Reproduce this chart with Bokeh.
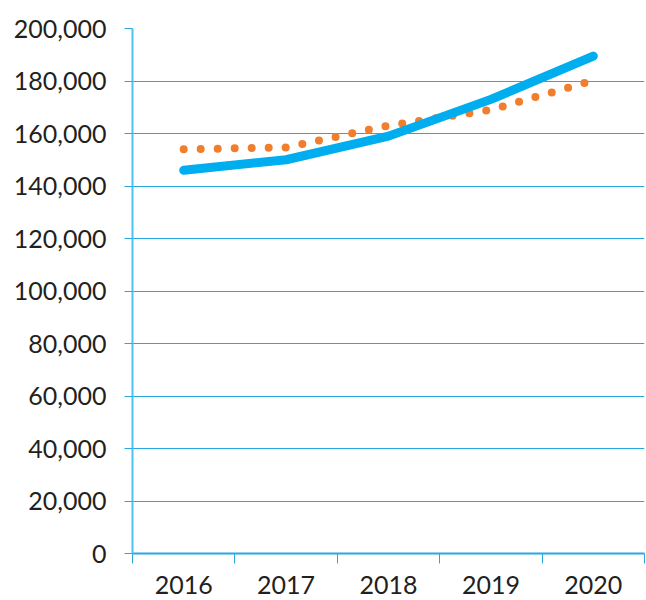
from bokeh.plotting import figure
from bokeh.models import Range1d, FixedTicker, NumeralTickFormatter
from bokeh.embed import file_html
from bokeh.resources import INLINE

years = ["2016", "2017", "2018", "2019", "2020"]
actual = [146000, 150000, 159000, 173000, 189500]
trend = [154000, 154700, 163000, 169000, 180200]
y_ticks = list(range(0, 200001, 20000))

xs = [i + 0.5 for i in range(len(years))]

p = figure(width=645, height=600, output_backend="svg", toolbar_location=None,
           x_range=Range1d(0, len(years)), y_range=Range1d(0, 200000),
           min_border_left=132, min_border_right=1, min_border_top=28, min_border_bottom=47)
p.outline_line_color = None
p.background_fill_color = "white"
p.border_fill_color = "white"

# grid
p.xgrid.grid_line_color = None
p.ygrid.ticker = FixedTicker(ticks=y_ticks)
p.ygrid.grid_line_color = "#29A8E0"
p.ygrid.grid_line_width = 1

# y axis
p.yaxis.ticker = FixedTicker(ticks=y_ticks)
p.yaxis.formatter = NumeralTickFormatter(format="0,0")
p.yaxis.axis_line_color = "#4CC3F0"
p.yaxis.axis_line_width = 2
p.yaxis.major_tick_line_color = "#29A8E0"
p.yaxis.major_tick_out = 8
p.yaxis.major_tick_in = 0
p.yaxis.minor_tick_line_color = None
p.yaxis.major_label_standoff = 18
p.yaxis.major_label_text_font = "Lato"
p.yaxis.major_label_text_font_size = "25px"
p.yaxis.major_label_text_color = "#231F20"

# x axis
p.xaxis.ticker = FixedTicker(ticks=xs, minor_ticks=list(range(len(years) + 1)))
p.xaxis.major_label_overrides = {x: y for x, y in zip(xs, years)}
p.xaxis.axis_line_color = "#29A8E0"
p.xaxis.axis_line_width = 2
p.xaxis.major_tick_line_color = None
p.xaxis.major_tick_out = 0
p.xaxis.major_tick_in = 0
p.xaxis.minor_tick_line_color = "#29A8E0"
p.xaxis.minor_tick_line_width = 1
p.xaxis.minor_tick_out = 10
p.xaxis.minor_tick_in = 0
p.xaxis.major_label_standoff = 12
p.xaxis.major_label_text_font = "Lato"
p.xaxis.major_label_text_font_size = "25px"
p.xaxis.major_label_text_color = "#231F20"

p.line(xs, trend, line_color="#F07E2C", line_width=8, line_dash="0 17", line_cap="round")
p.line(xs, actual, line_color="#00AEEF", line_width=9, line_cap="round", line_join="round")

open("out.html", "w").write(file_html(p, INLINE))
